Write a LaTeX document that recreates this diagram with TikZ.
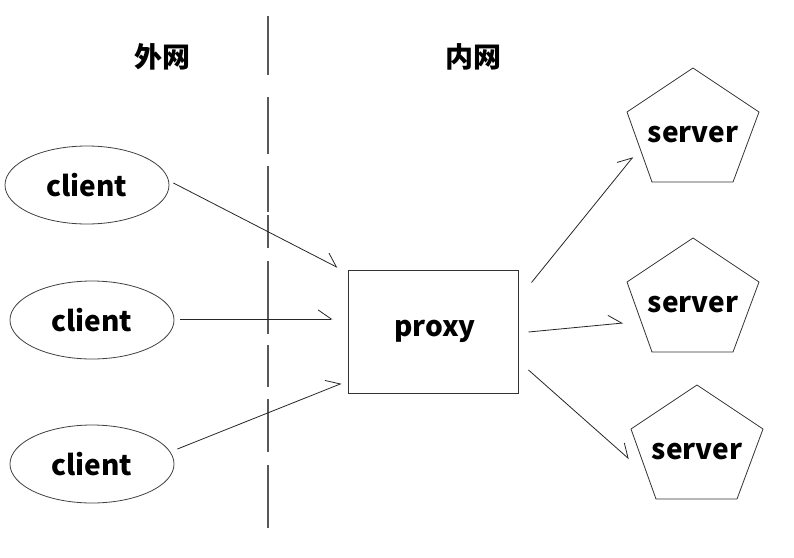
\documentclass[tikz,border=0pt]{standalone}
\usepackage{fontspec}
\setmainfont{Noto Sans CJK SC}
\usetikzlibrary{arrows.meta,calc,shapes.geometric}
\begin{document}
\begin{tikzpicture}[x=1pt,y=-1pt,
  lbl/.style={font=\fontsize{28}{30}\selectfont\bfseries, text=black},
  cjklbl/.style={font=\fontsize{28}{30}\selectfont\bfseries, text=black},
  clientbox/.style={draw=black!75, line width=0.8pt, ellipse, minimum width=164pt, minimum height=78pt, inner sep=0pt, lbl},
  proxybox/.style={draw=black!80, line width=1pt, rectangle, minimum width=170pt, minimum height=123pt, inner sep=0pt, lbl},
  pent/.style={draw=black!80, line width=0.8pt, line join=miter},
  conn/.style={draw=black!85, line width=0.8pt, -{Straight Barb[harpoon, length=13pt, width=18pt, line width=0.8pt]}},
  divider/.style={draw=black!65, line width=1.3pt}
]
\useasboundingbox (0,0) rectangle (794,557);

% divider dashes
\foreach \a/\b in {16/75,97/154,166/212,215/248,261/334,345/387,399/452,465/528}
  \draw[divider] (268,\a) -- (268,\b);

% headings
\node[cjklbl] (out) at (162,57) {外网};
\node[cjklbl] (in) at (473,57) {内网};

% clients
\node[clientbox] (c1) at (87,185) {client};
\node[clientbox] (c2) at (92,320) {client};
\node[clientbox] (c3) at (92,464) {client};

% proxy
\node[proxybox] (proxy) at (433,331.5) {};
\node[lbl] (ptext) at (435,331) {proxy};

% servers (text nodes, pentagons drawn around them)
\node[lbl] (s1) at (693,135) {server};
\node[lbl] (s2) at (693,305) {server};
\node[lbl] (s3) at (697,452) {server};
\foreach \s in {s1,s2,s3}
  \draw[pent, shift={(\s.center)}] (0,-67) -- (66,-23) -- (40,47) -- (-41,47) -- (-66,-23) -- cycle;

% connectors
\draw[conn] ($(c1.east)+(4,-2)$) -- ($(proxy.north west)+(-10,-2)$);
\draw[conn] ($(c2.east)+(6,-1)$) -- ($(proxy.west |- c2.east)+(-15,-1)$);
\draw[conn] ($(c3.east)+(3,-15)$) -- ($(proxy.south west)+(-6,-10)$);
\draw[conn] ($(proxy.north east)+(13,13)$) -- ($(s1.center)+(-60,22)$);
\draw[conn] ($(proxy.east)+(10,0.5)$) -- ($(s2.center)+(-70,18)$);
\draw[conn] ($(proxy.east)+(10,38.5)$) -- ($(s3.center)+(-68,7)$);
\end{tikzpicture}
\end{document}
